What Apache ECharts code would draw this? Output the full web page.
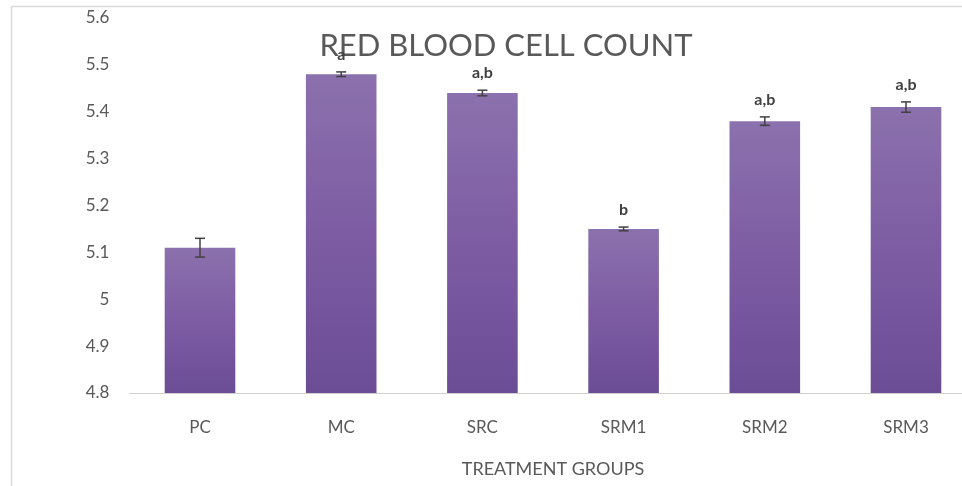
<!DOCTYPE html>
<html>
<head>
<meta charset="utf-8">
<script src="https://cdn.jsdelivr.net/npm/echarts@6/dist/echarts.min.js"></script>
<style>
html,body{margin:0;padding:0;background:#fff;}
#chart{width:962px;height:486px;}
</style>
</head>
<body>
<div id="chart"></div>
<script>
var categories = ['PC', 'MC', 'SRC', 'SRM1', 'SRM2', 'SRM3'];
var means = [5.11, 5.48, 5.44, 5.15, 5.38, 5.41];
var errors = [0.02, 0.005, 0.006, 0.004, 0.009, 0.011];
var sigLabels = ['', 'a', 'a,b', 'b', 'a,b', 'a,b'];
var yTicks = [4.8, 4.9, 5, 5.1, 5.2, 5.3, 5.4, 5.5, 5.6];

var FONT = 'Lato';
var chart = echarts.init(document.getElementById('chart'));

var errData = categories.map(function (c, i) {
  return [i, means[i] - errors[i], means[i] + errors[i], sigLabels[i]];
});

chart.setOption({
  animation: false,
  backgroundColor: '#ffffff',
  graphic: [
    { type: 'line', shape: { x1: 11.5, y1: 6.5, x2: 11.5, y2: 486 }, style: { stroke: '#d9d9d9', lineWidth: 1.5 }, z: -1 },
    { type: 'line', shape: { x1: 11.5, y1: 6.5, x2: 962, y2: 6.5 }, style: { stroke: '#d9d9d9', lineWidth: 1.5 }, z: -1 },
    {
      type: 'text', x: 506, y: 46, z: 1,
      style: {
        text: 'RED BLOOD CELL COUNT', align: 'center', verticalAlign: 'middle',
        font: '31px ' + FONT, fill: '#595959'
      }
    }
  ],
  grid: { left: 129.4, right: -14.6, top: 18, bottom: 93, containLabel: false, outerBoundsMode: 'none' },
  xAxis: {
    type: 'category',
    data: categories,
    name: 'TREATMENT GROUPS',
    nameLocation: 'middle',
    nameGap: 67,
    nameTextStyle: { fontFamily: FONT, fontSize: 18, color: '#595959' },
    axisLine: { lineStyle: { color: '#d0d0d0', width: 1 } },
    axisTick: { show: false },
    axisLabel: { fontFamily: FONT, fontSize: 17, color: '#595959', margin: 26 }
  },
  yAxis: {
    type: 'value',
    min: 4.8,
    max: 5.6,
    interval: 0.1,
    axisLine: { show: false },
    axisTick: { show: false },
    splitLine: { show: false },
    axisLabel: {
      fontFamily: FONT, fontSize: 17, color: '#595959', margin: 20,
      formatter: function (v) {
        var r = Math.round(v * 10) / 10;
        for (var k = 0; k < yTicks.length; k++) { if (Math.abs(yTicks[k] - r) < 1e-9) return String(yTicks[k]); }
        return '';
      }
    }
  },
  series: [
    {
      type: 'bar',
      data: means,
      barWidth: '50%',
      itemStyle: {
        color: new echarts.graphic.LinearGradient(0, 0, 0, 1, [
          { offset: 0, color: '#8b71ad' },
          { offset: 0.5, color: '#7d5ca3' },
          { offset: 1, color: '#6b4d96' }
        ])
      },
      z: 2
    },
    {
      type: 'custom',
      data: errData,
      z: 5,
      renderItem: function (params, api) {
        var x = api.value(0);
        var lo = api.coord([x, api.value(1)]);
        var hi = api.coord([x, api.value(2)]);
        var half = 5;
        var st = { stroke: '#404040', lineWidth: 1.5 };
        var children = [
          { type: 'line', shape: { x1: hi[0], y1: hi[1], x2: lo[0], y2: lo[1] }, style: st },
          { type: 'line', shape: { x1: hi[0] - half, y1: hi[1], x2: hi[0] + half, y2: hi[1] }, style: st },
          { type: 'line', shape: { x1: lo[0] - half, y1: lo[1], x2: lo[0] + half, y2: lo[1] }, style: st }
        ];
        var lbl = sigLabels[params.dataIndex];
        if (lbl) {
          children.push({
            type: 'text',
            style: {
              text: lbl, x: hi[0], y: hi[1] - 17,
              align: 'center', verticalAlign: 'middle',
              font: 'bold 16px ' + FONT, fill: '#404040'
            }
          });
        }
        return { type: 'group', children: children };
      }
    }
  ]
});
</script>
</body>
</html>
